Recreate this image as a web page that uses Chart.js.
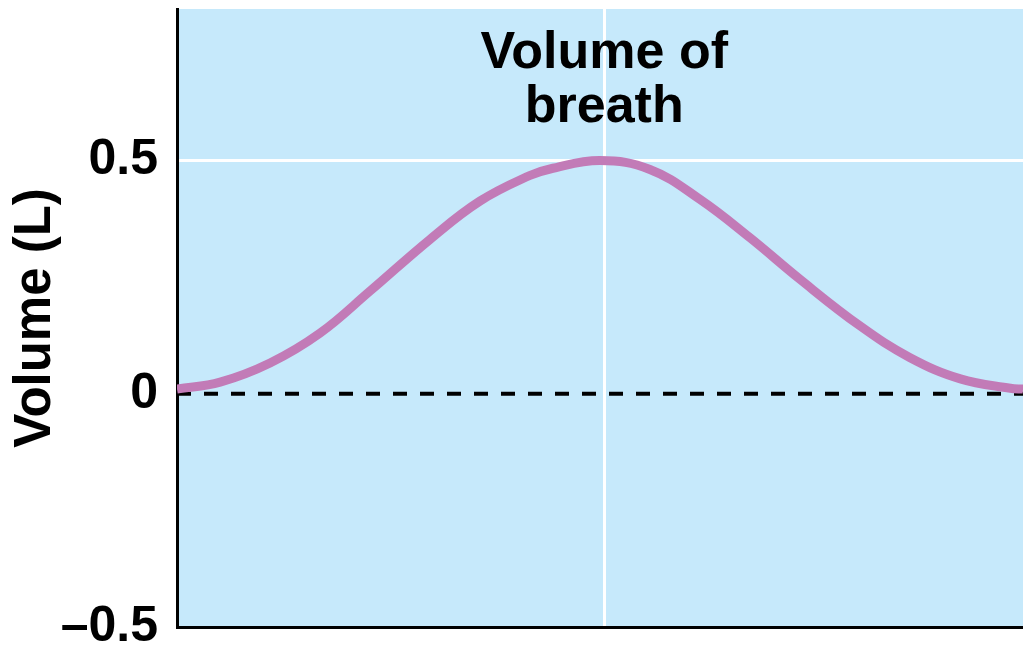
<!DOCTYPE html>
<html>
<head>
<meta charset="utf-8">
<script src="https://cdn.jsdelivr.net/npm/chart.js@4"></script>
<style>
  html, body { margin: 0; padding: 0; background: #ffffff; }
  #wrap { width: 1023px; height: 647px; }
</style>
</head>
<body>
<div id="wrap"><canvas id="c" width="1023" height="647"></canvas></div>
<script>
// ---- data ----
const timePoints = [0, 0.051, 0.110, 0.169, 0.228, 0.299, 0.358, 0.417, 0.441, 0.5, 0.559, 0.618, 0.677, 0.736, 0.807, 0.866, 0.926, 0.985, 1];
const volume     = [0.010, 0.025, 0.066, 0.130, 0.220, 0.331, 0.413, 0.468, 0.482, 0.5, 0.481, 0.417, 0.335, 0.246, 0.146, 0.078, 0.032, 0.012, 0.010];
const zeroLineX  = [0, 1];
const zeroLineY  = [0, 0];
const yTickValues = [-0.5, 0, 0.5];
const yTickLabels = ['\u20130.5', '0', '0.5'];
const xGridValues = [0.505];
const titleLines = ['Volume of', 'breath'];
const yAxisTitle = 'Volume (L)';

const FONT = "'Liberation Sans', Arial, Helvetica, sans-serif";

const bgPlugin = {
  id: 'bg',
  beforeDraw(chart) {
    const {ctx, chartArea: a} = chart;
    ctx.save();
    ctx.fillStyle = 'rgb(198,233,251)';
    ctx.fillRect(a.left, a.top, a.right - a.left, a.bottom - a.top);
    ctx.restore();
  }
};

const titlePlugin = {
  id: 'innerTitle',
  beforeDatasetsDraw(chart) {
    const {ctx, chartArea: a, scales} = chart;
    const cx = scales.x.getPixelForValue(xGridValues[0]);
    ctx.save();
    ctx.fillStyle = '#000';
    ctx.font = 'bold 52px ' + FONT;
    ctx.textAlign = 'center';
    ctx.textBaseline = 'alphabetic';
    titleLines.forEach((t, i) => ctx.fillText(t, cx, a.top + 59 + i * 54));
    ctx.restore();
  }
};

const pts = timePoints.map((t, i) => ({x: t, y: volume[i]}));
const zeroPts = zeroLineX.map((t, i) => ({x: t, y: zeroLineY[i]}));

new Chart(document.getElementById('c'), {
  type: 'line',
  data: {
    datasets: [
      {
        data: pts,
        borderColor: 'rgb(194,123,183)',
        borderWidth: 9,
        pointRadius: 0,
        tension: 0.4,
        fill: false,
        order: 1
      },
      {
        data: zeroPts,
        borderColor: '#000',
        borderWidth: 4,
        borderDash: [14, 13],
        pointRadius: 0,
        fill: false,
        order: 2
      }
    ]
  },
  options: {
    responsive: false,
    animation: false,
    events: [],
    layout: { padding: { top: 9, right: 0, bottom: 20, left: 0 } },
    plugins: { legend: { display: false }, tooltip: { enabled: false }, title: { display: false } },
    scales: {
      x: {
        type: 'linear',
        min: 0,
        max: 1,
        afterBuildTicks(s) { s.ticks = xGridValues.map(v => ({value: v})); },
        afterFit(s) { s.paddingLeft = 0; s.paddingRight = 0; },
        ticks: { display: false },
        grid: { color: '#ffffff', lineWidth: 3, drawTicks: false },
        border: { display: true, color: '#000', width: 3 }
      },
      y: {
        type: 'linear',
        min: -0.5,
        max: 0.825,
        afterBuildTicks(s) { s.ticks = yTickValues.map(v => ({value: v})); },
        afterFit(s) { s.width = 177; s.paddingTop = 0; s.paddingBottom = 0; },
        ticks: {
          padding: 19,
          color: '#000',
          font: { family: FONT, size: 50, weight: 'bold' },
          callback(v) { const i = yTickValues.indexOf(v); return i >= 0 ? yTickLabels[i] : ''; }
        },
        grid: {
          drawTicks: false,
          lineWidth: 3,
          color(ctx) { return ctx.tick && ctx.tick.value === 0.5 ? '#ffffff' : 'rgba(0,0,0,0)'; }
        },
        border: { display: true, color: '#000', width: 3 },
        title: {
          display: true,
          text: yAxisTitle,
          color: '#000',
          font: { family: FONT, size: 51, weight: 'bold' },
          padding: { top: 5, bottom: 0 }
        }
      }
    }
  },
  plugins: [bgPlugin, titlePlugin]
});
</script>
</body>
</html>
